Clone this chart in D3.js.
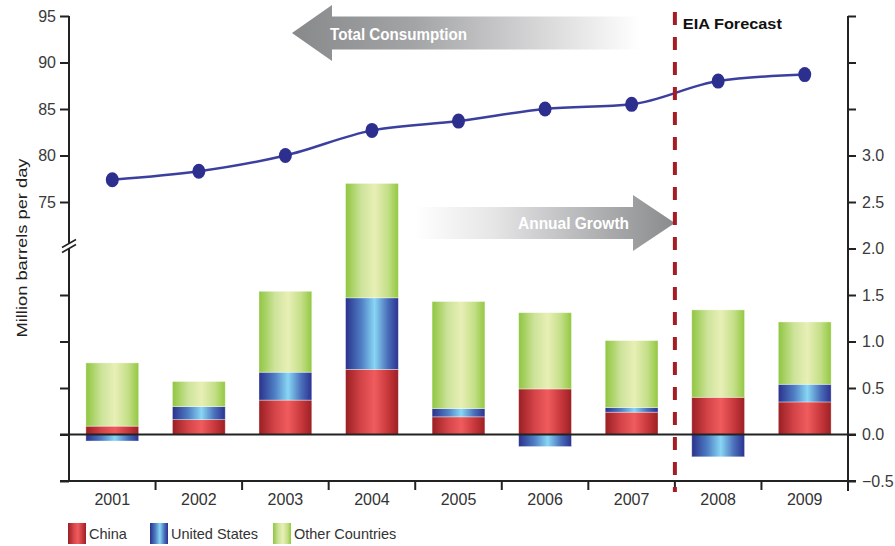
<!DOCTYPE html>
<html><head><meta charset="utf-8">
<script src="https://cdn.jsdelivr.net/npm/d3@7"></script>
<style>
body{margin:0;background:#fff}
svg{display:block}
text{font-family:"Liberation Sans",Arial,sans-serif}
</style>
</head><body>
<svg id="chart" width="895" height="546"></svg>
<script>
// ---------- data ----------
const years = ["2001","2002","2003","2004","2005","2006","2007","2008","2009"];
const china = [0.09,0.16,0.37,0.70,0.19,0.49,0.24,0.40,0.35];
const unitedStates = [-0.07,0.14,0.30,0.77,0.09,-0.13,0.05,-0.24,0.19];
const otherCountries = [0.68,0.27,0.87,1.23,1.15,0.82,0.72,0.94,0.67];
const totalConsumption = [77.4,78.3,80.0,82.7,83.7,85.0,85.5,88.0,88.7];
const consumptionTicks = [75,80,85,90,95];
const growthTicks = [-0.5,0,0.5,1.0,1.5,2.0,2.5,3.0];
const growthUnlabeledTicks = [3.5,4.0,4.5];
const seriesKeys = ["china","us","other"];
const seriesNames = ["China","United States","Other Countries"];
const forecastStartYear = "2008";
const yAxisTitle = "Million barrels per day";

// ---------- setup ----------
const svg = d3.select("#chart");
const pL = 69, pR = 848, pT = 16, pB = 481;

const x = d3.scaleBand().domain(years).range([pL, pR]).paddingInner(0.39).paddingOuter(0.195);
const yR = d3.scaleLinear().domain([-0.5, 4.5]).range([pB, pT]);
const yL = d3.scaleLinear().domain([75, 95]).range([yR(2.5), yR(4.5)]);

const defs = svg.append("defs");
function hGrad(id, stops) {
  const g = defs.append("linearGradient").attr("id", id).attr("x1","0%").attr("x2","100%").attr("y1","0%").attr("y2","0%");
  stops.forEach(([o,c]) => g.append("stop").attr("offset", o).attr("stop-color", c));
}
hGrad("g-china", [["0%","#9a1f23"],["30%","#d44448"],["55%","#f05c5e"],["80%","#c8383c"],["100%","#9c2024"]]);
hGrad("g-us", [["0%","#2a318c"],["30%","#4f7fc4"],["55%","#88d6f4"],["80%","#4a6fba"],["100%","#2b3290"]]);
hGrad("g-other", [["0%","#8fc640"],["30%","#cde39a"],["55%","#e8efb6"],["80%","#c4df88"],["100%","#93c842"]]);
hGrad("g-total", [["0%","#88898b"],["35%","#a3a4a6"],["75%","#dcdcdd"],["100%","#ffffff"]]);
hGrad("g-annual", [["0%","#ffffff"],["30%","#e6e6e7"],["75%","#a9aaac"],["100%","#8a8b8d"]]);
const fills = {china:"url(#g-china)", us:"url(#g-us)", other:"url(#g-other)"};

// ---------- stacked bars ----------
const rows = years.map((y,i) => ({year:y, china:china[i], us:unitedStates[i], other:otherCountries[i]}));
const stack = d3.stack().keys(seriesKeys).offset(d3.stackOffsetDiverging);
const stacked = stack(rows);
svg.append("g").selectAll("g").data(stacked).join("g")
  .attr("fill", d => fills[d.key])
  .selectAll("rect").data(d => d).join("rect")
  .attr("x", d => x(d.data.year))
  .attr("width", x.bandwidth())
  .attr("y", d => yR(Math.max(d[0], d[1])))
  .attr("height", d => Math.abs(yR(d[0]) - yR(d[1])))
  .attr("stroke", "rgba(255,255,255,0.45)").attr("stroke-width", 0.8);

// ---------- axes ----------
const axisColor = "#222";
const styleAxis = g => {
  g.select(".domain").remove();
  g.selectAll("line").attr("stroke", axisColor).attr("stroke-width", 2);
  g.selectAll("text").attr("fill", "#3a3a3a").attr("font-size", 16);
};
svg.append("g").attr("transform", `translate(${pL},0)`)
  .call(d3.axisLeft(yL).tickValues(consumptionTicks).tickSize(9).tickPadding(4).tickFormat(d3.format("d")))
  .call(styleAxis);
svg.append("g").attr("transform", `translate(${pL},0)`)
  .call(d3.axisLeft(yR).tickValues([-0.5,0,0.5,1.0,1.5]).tickSize(9).tickFormat(""))
  .call(styleAxis);
svg.append("g").attr("transform", `translate(${pR},0)`)
  .call(d3.axisRight(yR).tickValues(growthTicks).tickSize(8).tickPadding(6).tickFormat(d3.format(".1f")))
  .call(styleAxis);
svg.append("g").attr("transform", `translate(${pR},0)`)
  .call(d3.axisRight(yR).tickValues(growthUnlabeledTicks).tickSize(8).tickFormat(""))
  .call(styleAxis);

svg.append("line").attr("x1", pL).attr("x2", pL).attr("y1", pT).attr("y2", pB).attr("stroke", axisColor).attr("stroke-width", 2);
svg.append("line").attr("x1", pR).attr("x2", pR).attr("y1", pT).attr("y2", pB + 10).attr("stroke", axisColor).attr("stroke-width", 2);
svg.append("line").attr("x1", pL - 9).attr("x2", pR + 8).attr("y1", yR(0)).attr("y2", yR(0)).attr("stroke", axisColor).attr("stroke-width", 2);
svg.append("line").attr("x1", pL - 9).attr("x2", pR + 8).attr("y1", yR(-0.5)).attr("y2", yR(-0.5)).attr("stroke", axisColor).attr("stroke-width", 2);

// break mark on left axis
const bY = yR(2.0) - 3;
svg.append("polygon").attr("points", `${pL-7},${bY+2} ${pL+7},${bY-6} ${pL+7},${bY-1} ${pL-7},${bY+7}`).attr("fill", "#fff");
svg.append("line").attr("x1", pL-7).attr("y1", bY+2).attr("x2", pL+7).attr("y2", bY-6).attr("stroke", axisColor).attr("stroke-width", 1.6);
svg.append("line").attr("x1", pL-7).attr("y1", bY+7).attr("x2", pL+7).attr("y2", bY-1).attr("stroke", axisColor).attr("stroke-width", 1.6);

// bottom category ticks between bands
const step = x.step();
const boundaries = years.slice(1).map(y => x(y) - x.paddingInner() * step / 2);
svg.append("g").selectAll("line").data(boundaries).join("line")
  .attr("x1", d => d).attr("x2", d => d).attr("y1", pB).attr("y2", pB + 9)
  .attr("stroke", axisColor).attr("stroke-width", 2);
svg.append("g").selectAll("text").data(years).join("text")
  .attr("x", d => x(d) + x.bandwidth()/2).attr("y", 505)
  .attr("text-anchor", "middle").attr("font-size", 16).attr("fill", "#333").text(d => d);

svg.append("text").attr("transform", `translate(27,248) rotate(-90)`)
  .attr("text-anchor", "middle").attr("font-size", 15).attr("fill", "#222")
  .attr("textLength", 179).attr("lengthAdjust", "spacingAndGlyphs").text(yAxisTitle);

// ---------- consumption line ----------
const line = d3.line().x((d,i) => x(years[i]) + x.bandwidth()/2).y(d => yL(d)).curve(d3.curveMonotoneX);
svg.append("path").datum(totalConsumption).attr("d", line).attr("fill", "none")
  .attr("stroke", "#3b3f9e").attr("stroke-width", 2.5);
svg.append("g").selectAll("ellipse").data(totalConsumption).join("ellipse")
  .attr("cx", (d,i) => x(years[i]) + x.bandwidth()/2).attr("cy", d => yL(d))
  .attr("rx", 6.5).attr("ry", 7.5).attr("fill", "#2c2f8e");

// ---------- arrows ----------
const tc = {tip:292, headEnd:332, tail:640, cy:33, sh:16.5, hh:28};
svg.append("polygon").attr("points", [
  [tc.tip, tc.cy], [tc.headEnd, tc.cy - tc.hh], [tc.headEnd, tc.cy - tc.sh], [tc.tail, tc.cy - tc.sh],
  [tc.tail, tc.cy + tc.sh], [tc.headEnd, tc.cy + tc.sh], [tc.headEnd, tc.cy + tc.hh]
].map(p => p.join(",")).join(" ")).attr("fill", "url(#g-total)");
svg.append("text").attr("x", 330).attr("y", 40).attr("font-size", 16).attr("font-weight", "bold")
  .attr("fill", "#fff").attr("textLength", 137).attr("lengthAdjust", "spacingAndGlyphs").text("Total Consumption");

const fx = x(forecastStartYear) - x.paddingInner()*step/2;
const ag = {tail:415, headStart:633, tip:fx, cy:223, sh:16, hh:28};
svg.append("polygon").attr("points", [
  [ag.tail, ag.cy - ag.sh], [ag.headStart, ag.cy - ag.sh], [ag.headStart, ag.cy - ag.hh], [ag.tip, ag.cy],
  [ag.headStart, ag.cy + ag.hh], [ag.headStart, ag.cy + ag.sh], [ag.tail, ag.cy + ag.sh]
].map(p => p.join(",")).join(" ")).attr("fill", "url(#g-annual)");
svg.append("text").attr("x", 629).attr("y", 229).attr("text-anchor", "end").attr("font-size", 16).attr("font-weight", "bold")
  .attr("fill", "#fff").attr("textLength", 111).attr("lengthAdjust", "spacingAndGlyphs").text("Annual Growth");

// ---------- forecast divider ----------
svg.append("line").attr("x1", fx).attr("x2", fx).attr("y1", 12).attr("y2", 492)
  .attr("stroke", "#a51d24").attr("stroke-width", 4).attr("stroke-dasharray", "13,12");
svg.append("text").attr("x", fx + 8).attr("y", 29).attr("font-size", 15).attr("font-weight", "bold")
  .attr("fill", "#111").attr("textLength", 99).attr("lengthAdjust", "spacingAndGlyphs").text("EIA Forecast");

// ---------- legend ----------
const legendX = [68, 150, 273];
const lg = svg.append("g").selectAll("g").data(seriesKeys).join("g")
  .attr("transform", (d,i) => `translate(${legendX[i]},523)`);
lg.append("rect").attr("width", 18).attr("height", 21).attr("fill", d => fills[d]);
lg.append("text").attr("x", 21).attr("y", 16).attr("font-size", 14.5).attr("fill", "#333")
  .text((d,i) => seriesNames[i]);
</script>
</body></html>
